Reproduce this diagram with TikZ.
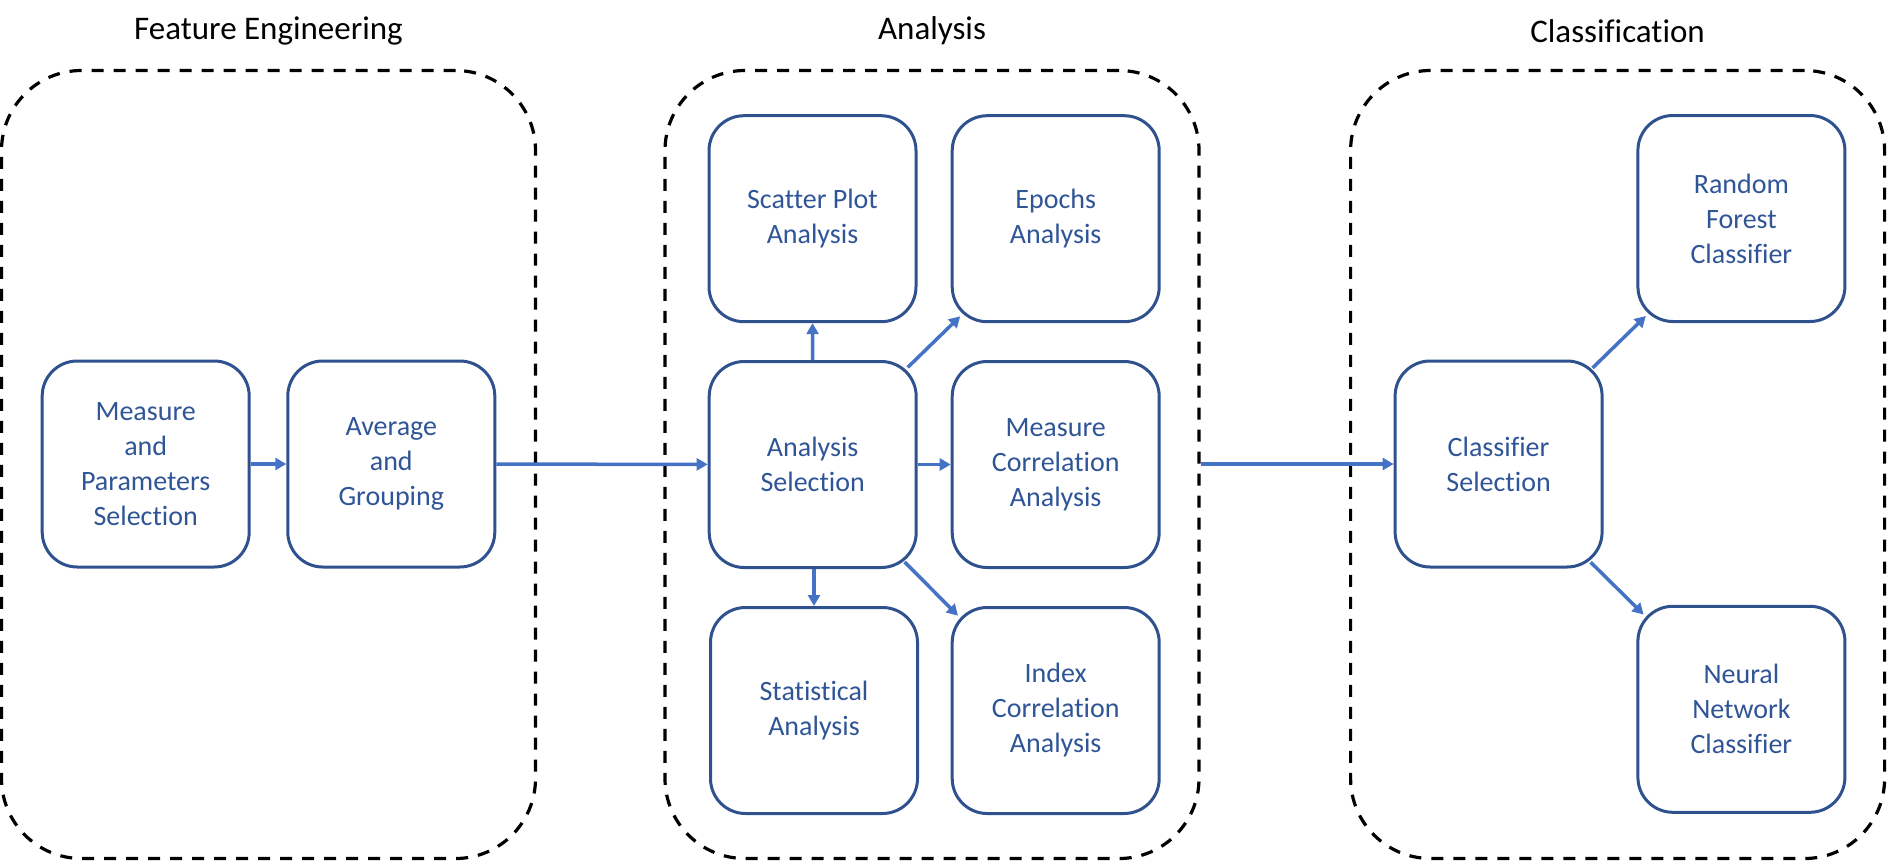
\documentclass[tikz,border=0pt]{standalone}
\usepackage{fontspec}
\setmainfont{Carlito}[Ligatures={NoCommon,NoContextual}]
\usetikzlibrary{arrows.meta,calc}
\definecolor{boxborder}{HTML}{2F528F}
\definecolor{boxtext}{HTML}{2F5597}
\definecolor{arrowblue}{HTML}{4472C4}
\tikzset{
  group/.style={draw=black, line width=3.2pt, dash pattern=on 12pt off 10pt, rounded corners=80pt, minimum width=534pt, minimum height=788pt, inner sep=0pt},
  grouptitle/.style={font=\fontsize{33}{40}\selectfont, text=black, inner sep=0pt},
  proc/.style={draw=boxborder, line width=3pt, rounded corners=35pt, minimum width=207pt, minimum height=206pt, align=center, text=boxtext, font=\fontsize{28}{35}\selectfont, inner sep=0pt},
  conn/.style={draw=arrowblue, line width=3.5pt, -{Triangle[length=11pt,width=12pt]}},
}
\begin{document}
\begin{tikzpicture}[x=1pt,y=-1pt]
\useasboundingbox (0,0) rectangle (1887,862);
% groups
\node[group] (fe) at (268.5,464.5) {};
\node[group] (an) at (932,464.5) {};
\node[group] (cl) at (1617.6,464.5) {};
\node[grouptitle] (tfe) at (268.5,31) {Feature Engineering};
\node[grouptitle] (tan) at (932,31) {Analysis};
\node[grouptitle] (tcl) at (1617.6,31) {Classification};
% process boxes
\node[proc] (mp) at (145.7,464) {Measure\\and\\Parameters\\Selection};
\node[proc] (ag) at (391.3,464) {Average\\and\\Grouping};
\node[proc] (sp) at (812.5,218.7) {Scatter Plot\\Analysis};
\node[proc] (ep) at (1055.7,218.7) {Epochs\\Analysis};
\node[proc] (as) at (812.7,464.5) {Analysis\\Selection};
\node[proc] (mc) at (1055.7,464.5) {Measure\\Correlation\\Analysis};
\node[proc] (st) at (814,710.5) {Statistical\\Analysis};
\node[proc] (ic) at (1055.7,710.5) {Index\\Correlation\\Analysis};
\node[proc] (cs) at (1498.6,464) {Classifier\\Selection};
\node[proc] (rf) at (1741.4,218.5) {Random\\Forest\\Classifier};
\node[proc] (nn) at (1741.4,709.3) {Neural\\Network\\Classifier};
% connectors
\draw[conn] (mp) -- (ag);
\draw[conn] (ag) -- (as);
\draw[conn] (as.north) -- (sp.south);
\draw[conn] (as.south -| st.north) -- (st.north);
\draw[conn] (as) -- (mc);
\draw[conn] ($(as.north east)+(-10,7.4)$) -- ($(ep.south west)+(9.5,-6.9)$);
\draw[conn] ($(as.south east)+(-13,-7)$) -- ($(ic.north west)+(7.3,9.7)$);
\draw[conn] (an.east |- cs.west) -- (cs.west);
\draw[conn] ($(cs.north east)+(-11,8.4)$) -- ($(rf.south west)+(9.4,-7)$);
\draw[conn] ($(cs.south east)+(-13,-6.3)$) -- ($(nn.north west)+(7.2,9.7)$);
\end{tikzpicture}
\end{document}
